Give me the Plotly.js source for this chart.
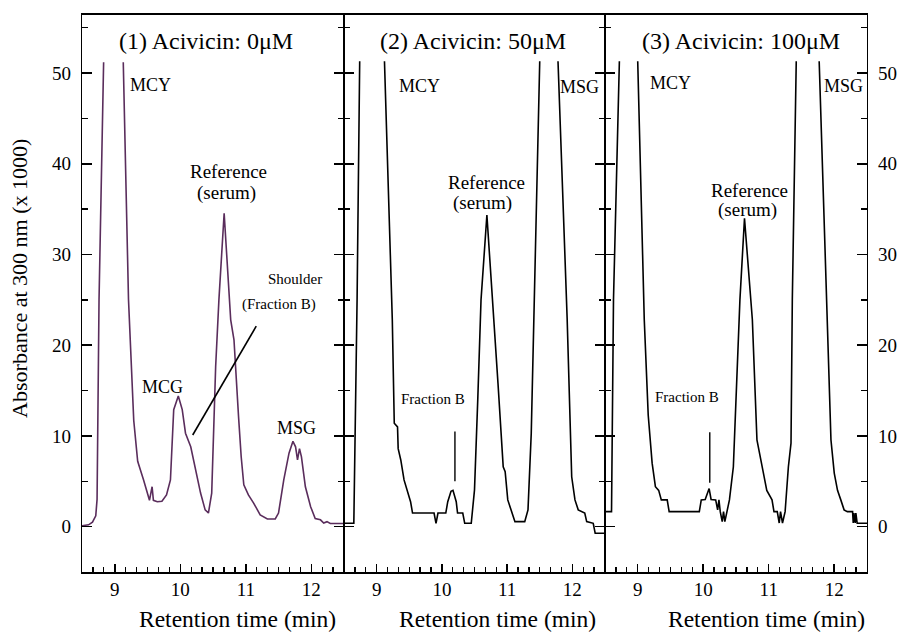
<!DOCTYPE html>
<html>
<head>
<meta charset="utf-8">
<script src="https://cdn.plot.ly/plotly-3.0.1.min.js"></script>
<style>html,body{margin:0;padding:0;background:#fff;}#chart{width:898px;height:633px;}</style>
</head>
<body>
<div id="chart"></div>
<script>
// Panel titles and text labels
const panelTitles = ["(1) Acivicin: 0\u03bcM", "(2) Acivicin: 50\u03bcM", "(3) Acivicin: 100\u03bcM"];
const yTitle = "Absorbance at 300 nm (x 1000)";
const xTitle = "Retention time (min)";
const yTickVals = [0, 10, 20, 30, 40, 50];
const xTickVals = [9, 10, 11, 12];

// Panel 1: Acivicin 0 uM (retention time, absorbance x1000)
const t1 = [8.50, 8.60, 8.66, 8.71, 8.73, 8.76, 8.83, 8.98, 9.13, 9.21, 9.29, 9.35, 9.44, 9.53, 9.57, 9.59, 9.65, 9.72, 9.79, 9.85, 9.90, 9.97, 10.03, 10.08, 10.16, 10.23, 10.31, 10.38, 10.43, 10.48, 10.51, 10.54, 10.59, 10.67, 10.77, 10.82, 10.89, 10.93, 10.97, 11.04, 11.12, 11.22, 11.33, 11.45, 11.50, 11.58, 11.66, 11.72, 11.76, 11.79, 11.82, 11.85, 11.91, 11.99, 12.06, 12.14, 12.19, 12.24, 12.29, 12.50];
const v1 = [0.1, 0.2, 0.5, 1.2, 3.0, 25, 51.2, null, 51.2, 25, 11.7, 7.2, 5.15, 2.9, 4.4, 2.9, 2.75, 2.8, 3.5, 5.15, 12.9, 14.4, 12.9, 10.3, 8.8, 6.25, 3.7, 1.85, 1.5, 3.7, 10.3, 17.6, 25, 34.55, 22.8, 20.6, 12.1, 7.7, 4.6, 3.5, 2.6, 1.3, 0.85, 0.85, 1.5, 5.15, 8.1, 9.4, 8.8, 7.35, 8.6, 7.7, 4.4, 2.2, 0.9, 0.75, 0.4, 0.55, 0.35, 0.35];

// Panel 2: Acivicin 50 uM
const t2 = [8.50, 8.65, 8.70, 8.74, 8.93, 9.12, 9.24, 9.27, 9.32, 9.33, 9.37, 9.42, 9.47, 9.52, 9.55, 9.88, 9.91, 9.94, 10.06, 10.09, 10.14, 10.17, 10.22, 10.24, 10.32, 10.35, 10.45, 10.47, 10.50, 10.55, 10.60, 10.69, 10.80, 10.86, 10.94, 10.97, 11.01, 11.06, 11.12, 11.27, 11.32, 11.37, 11.42, 11.50, 11.64, 11.78, 11.92, 11.99, 12.04, 12.09, 12.19, 12.22, 12.32, 12.35, 12.50];
const v2 = [0.37, 0.37, 25, 51.3, null, 51.3, 22.8, 11.4, 11.0, 8.6, 7.35, 5.15, 3.9, 2.75, 1.5, 1.5, 0.37, 1.5, 1.5, 2.75, 3.9, 4.0, 2.75, 1.5, 1.5, 0.37, 0.37, 1.65, 4.05, 14, 25, 34.35, 22.8, 15.8, 6.6, 6.05, 2.95, 1.85, 0.55, 0.55, 1.85, 10.3, 25, 51.3, null, 51.3, 23, 5.5, 2.95, 1.85, 1.5, 0.55, 0.37, -0.73, -0.73];

// Panel 3: Acivicin 100 uM
const t3 = [8.50, 8.60, 8.63, 8.72, 8.86, 9.00, 9.10, 9.16, 9.19, 9.22, 9.27, 9.32, 9.36, 9.45, 9.48, 9.94, 9.97, 10.03, 10.09, 10.12, 10.19, 10.22, 10.24, 10.26, 10.29, 10.31, 10.33, 10.36, 10.40, 10.46, 10.56, 10.63, 10.75, 10.82, 10.88, 10.92, 10.97, 11.05, 11.08, 11.13, 11.16, 11.18, 11.21, 11.25, 11.30, 11.34, 11.36, 11.42, 11.60, 11.77, 11.90, 11.95, 12.00, 12.05, 12.10, 12.15, 12.20, 12.28, 12.29, 12.30, 12.32, 12.33, 12.35, 12.41, 12.50];
const v3 = [1.65, 1.65, 25, 51.3, null, 51.3, 22.8, 12.3, 9.55, 7.0, 4.4, 4.0, 2.95, 2.95, 1.65, 1.65, 2.95, 3.0, 4.2, 3.0, 2.95, 1.85, 2.95, 1.65, 0.55, 1.65, 0.55, 1.65, 2.95, 6.6, 25, 34.0, 22.8, 9.55, 7.35, 5.9, 4.0, 2.95, 1.65, 1.65, 0.4, 1.65, 0.4, 1.65, 6.6, 9.2, 25, 51.3, null, 51.3, 22.8, 9.55, 5.9, 4.0, 2.95, 1.85, 1.65, 1.65, 0.4, 1.5, 0.4, 1.5, 0.37, 0.37, 0.37];

// Indicator lines
const shoulderT = [10.19, 11.16], shoulderV = [10.1, 22.1];
const fracB2T = [10.20, 10.20], fracB2V = [5.0, 10.5];
const fracB3T = [10.10, 10.10], fracB3V = [4.85, 10.4];

const FONT = "Liberation Serif, Times New Roman, serif";
const purple = "#5a2d5c";

const traces = [
  {x: t1, y: v1, xaxis: "x", yaxis: "y", mode: "lines", line: {color: purple, width: 1.6}, connectgaps: false},
  {x: t2, y: v2, xaxis: "x2", yaxis: "y2", mode: "lines", line: {color: "#000", width: 1.6}, connectgaps: false},
  {x: t3, y: v3, xaxis: "x3", yaxis: "y3", mode: "lines", line: {color: "#000", width: 1.6}, connectgaps: false},
  {x: shoulderT, y: shoulderV, xaxis: "x", yaxis: "y", mode: "lines", line: {color: "#000", width: 1.6}},
  {x: fracB2T, y: fracB2V, xaxis: "x2", yaxis: "y2", mode: "lines", line: {color: "#000", width: 1.4}},
  {x: fracB3T, y: fracB3V, xaxis: "x3", yaxis: "y3", mode: "lines", line: {color: "#000", width: 1.4}}
];

function xax(dom) {
  return {
    domain: dom, range: [8.5, 12.5], tickvals: xTickVals, ticks: "inside", ticklen: 8, tickwidth: 1.5,
    tickcolor: "#000", showline: true, linecolor: "#000", linewidth: 1.6, mirror: true,
    showgrid: false, zeroline: false, tickfont: {family: FONT, size: 19, color: "#000"},
    minor: {dtick: 1/6, tick0: 0, ticks: "inside", ticklen: 5, tickwidth: 1.3, tickcolor: "#000", showgrid: false}
  };
}
function yax(anchor, showLabels, side) {
  return {
    range: [-5, 56.4], tickvals: yTickVals, ticks: "inside", ticklen: 10, tickwidth: 1.5, tickcolor: "#000",
    showline: true, linecolor: "#000", linewidth: 1.2, mirror: "allticks", showgrid: false, zeroline: false,
    showticklabels: showLabels, side: side, anchor: anchor, ticklabelstandoff: 6,
    tickfont: {family: FONT, size: 19, color: "#000"},
    minor: {dtick: 5, tick0: 0, ticks: "inside", ticklen: 6, tickwidth: 1.3, tickcolor: "#000", showgrid: false}
  };
}

const ann = [];
function txt(xr, yr, x, y, text, size, xanchor) {
  ann.push({xref: xr, yref: yr, x: x, y: y, text: text, showarrow: false, xanchor: xanchor || "center", yanchor: "middle",
            font: {family: FONT, size: size, color: "#000"}});
}
// panel titles
txt("x", "y", 10.39, 53.55, panelTitles[0], 24);
txt("x2", "y2", 10.48, 53.55, panelTitles[1], 24);
txt("x3", "y3", 10.57, 53.55, panelTitles[2], 24);
// panel 1 labels
txt("x", "y", 9.195, 48.7, "MCY", 18, "left");
txt("x", "y", 10.74, 39.1, "Reference", 19);
txt("x", "y", 10.70, 36.8, "(serum)", 19);
txt("x", "y", 12.19, 27.3, "Shoulder", 15, "right");
txt("x", "y", 12.10, 24.5, "(Fraction B)", 15, "right");
txt("x", "y", 9.736, 15.4, "MCG", 18);
txt("x", "y", 11.78, 10.9, "MSG", 18);
// panel 2 labels
txt("x2", "y2", 9.31, 48.6, "MCY", 18, "left");
txt("x2", "y2", 11.78, 48.5, "MSG", 18, "left");
txt("x2", "y2", 10.69, 37.9, "Reference", 19);
txt("x2", "y2", 10.62, 35.7, "(serum)", 19);
txt("x2", "y2", 9.34, 14.1, "Fraction B", 15, "left");
// panel 3 labels
txt("x3", "y3", 9.15, 48.9, "MCY", 18, "left");
txt("x3", "y3", 11.82, 48.6, "MSG", 18, "left");
txt("x3", "y3", 10.71, 37.1, "Reference", 19);
txt("x3", "y3", 10.67, 34.9, "(serum)", 19);
txt("x3", "y3", 9.23, 14.3, "Fraction B", 15, "left");
// axis titles
ann.push({xref: "paper", yref: "paper", x: -0.079, y: 0.528, text: yTitle, textangle: -90, showarrow: false,
          xanchor: "center", yanchor: "middle", font: {family: FONT, size: 22, color: "#000"}});
[0.326, 0.657, 1.0].forEach(function (px) {
  ann.push({xref: "paper", yref: "paper", x: px, y: -0.0844, text: xTitle, showarrow: false,
            xanchor: "right", yanchor: "middle", font: {family: FONT, size: 23.5, color: "#000"}});
});

const layout = {
  width: 898, height: 633,
  margin: {l: 82, r: 31, t: 15, b: 61},
  paper_bgcolor: "#fff", plot_bgcolor: "#fff",
  showlegend: false,
  xaxis: Object.assign(xax([0, 0.3338]), {anchor: "y"}),
  xaxis2: Object.assign(xax([0.3338, 0.6662]), {anchor: "y2"}),
  xaxis3: Object.assign(xax([0.6662, 1]), {anchor: "y3"}),
  yaxis: yax("x", true, "left"),
  yaxis2: yax("x2", false, "left"),
  yaxis3: yax("x3", true, "right"),
  annotations: ann
};

Plotly.newPlot("chart", traces, layout, {staticPlot: true, displayModeBar: false});
</script>
</body>
</html>
